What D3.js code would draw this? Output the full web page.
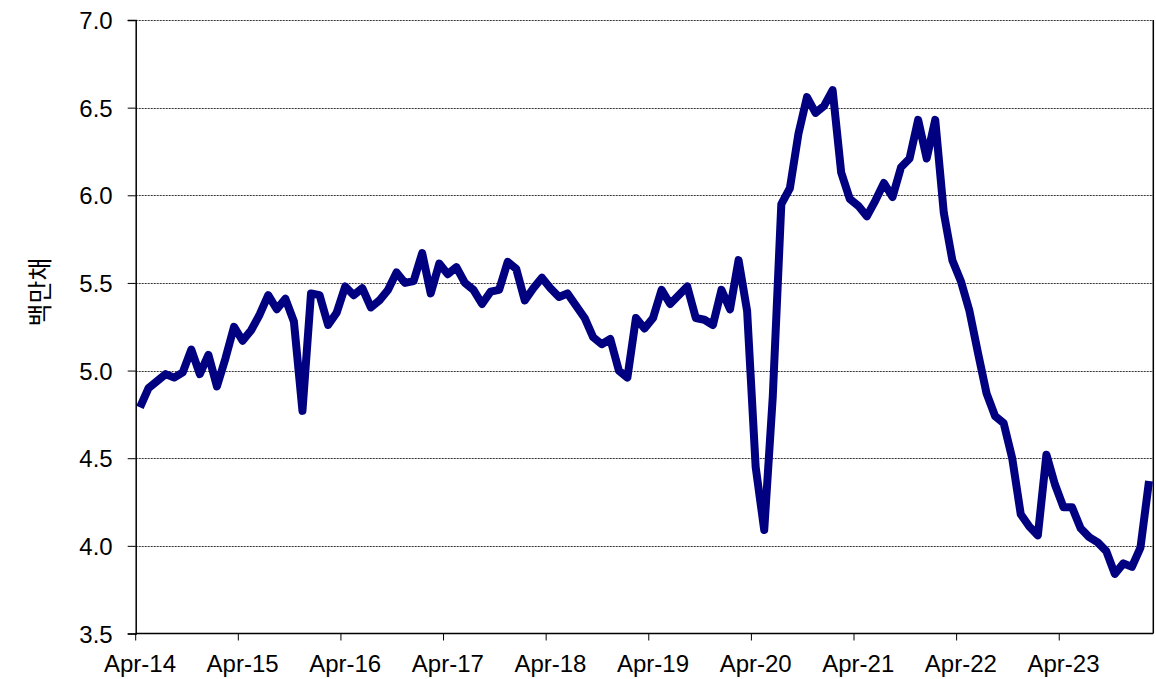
<!DOCTYPE html>
<html>
<head>
<meta charset="utf-8">
<script src="https://cdn.jsdelivr.net/npm/d3@7"></script>
<style>
  html, body { margin: 0; padding: 0; background: #fff; }
  svg { display: block; }
  text { font-family: "Liberation Sans", Arial, sans-serif; fill: #000; }
</style>
</head>
<body>
<svg id="chart" width="1156" height="679"></svg>
<script>
// Monthly categories: Apr-14 .. Feb-24
const startMonth = new Date(2014, 3, 1);
const endMonthExclusive = new Date(2024, 2, 1);
const months = d3.timeMonth.range(startMonth, endMonthExclusive);

// Series values (millions of units)
const values = [
  4.79, 4.90, 4.94, 4.98, 4.96, 4.99, 5.12, 4.98, 5.09, 4.91, 5.07, 5.25,
  5.17, 5.23, 5.32, 5.43, 5.35, 5.41, 5.28, 4.77, 5.44, 5.43, 5.26, 5.33,
  5.48, 5.43, 5.47, 5.36, 5.40, 5.46, 5.56, 5.50, 5.51, 5.67, 5.44, 5.61,
  5.55, 5.59, 5.50, 5.46, 5.38, 5.45, 5.46, 5.62, 5.58, 5.40, 5.47, 5.53,
  5.47, 5.42, 5.44, 5.37, 5.30, 5.19, 5.15, 5.18, 5.00, 4.96, 5.30, 5.24,
  5.30, 5.46, 5.38, 5.43, 5.48, 5.30, 5.29, 5.26, 5.46, 5.35, 5.63, 5.34,
  4.45, 4.09, 4.85, 5.95, 6.04, 6.35, 6.56, 6.47, 6.51, 6.60, 6.13, 5.98,
  5.94, 5.88, 5.97, 6.07, 5.99, 6.16, 6.21, 6.43, 6.21, 6.43, 5.90, 5.63,
  5.51, 5.34, 5.10, 4.87, 4.74, 4.70, 4.50, 4.18, 4.11, 4.06, 4.52, 4.35,
  4.22, 4.22, 4.10, 4.05, 4.02, 3.97, 3.84, 3.90, 3.88, 3.99, 4.37
];

// Tick labels
const xTickLabels = ["Apr-14","Apr-15","Apr-16","Apr-17","Apr-18","Apr-19","Apr-20","Apr-21","Apr-22","Apr-23"];
const yTicks = [3.5, 4.0, 4.5, 5.0, 5.5, 6.0, 6.5, 7.0];
const yTitle = "백만채";

const fmt = d3.timeFormat("%b-%y");
const data = months.map((m, i) => ({ label: fmt(m), v: values[i] }));

const svg = d3.select("#chart");
const plotLeft = 135.7, plotRight = 1153.3, plotTop = 20, plotBottom = 633.5;

const x = d3.scaleBand().domain(data.map(d => d.label)).range([plotLeft, plotRight]).padding(0);
const y = d3.scaleLinear().domain([3.5, 7.0]).range([plotBottom, plotTop]);
const cx = d => x(d.label) + x.bandwidth() / 2;

// Gridlines (dotted)
svg.append("g").selectAll("line").data(yTicks.filter(t => t > 3.5)).join("line")
  .attr("x1", plotLeft).attr("x2", plotRight)
  .attr("y1", d => Math.round(y(d)) + 0.5).attr("y2", d => Math.round(y(d)) + 0.5)
  .attr("stroke", "#333").attr("stroke-width", 1)
  .attr("stroke-dasharray", "2,1");

// Right border
svg.append("line")
  .attr("x1", plotRight).attr("x2", plotRight).attr("y1", plotTop).attr("y2", plotBottom)
  .attr("stroke", "#000").attr("stroke-width", 1.5);

// Y axis
const yAxis = d3.axisLeft(y).tickValues(yTicks).tickFormat(d3.format(".1f")).tickSize(8).tickPadding(15);
const gy = svg.append("g").attr("transform", `translate(${plotLeft},0)`).call(yAxis);
gy.select(".domain").attr("stroke", "#000").attr("stroke-width", 1.5);
gy.selectAll(".tick line").attr("stroke", "#000");
gy.selectAll(".tick text").style("font-size", "24px").attr("font-family", "Liberation Sans, Arial, sans-serif").attr("dy", "0.36em");

// X axis: ticks at April band starts, labels centered on April categories
const aprilLabels = data.map(d => d.label).filter(l => xTickLabels.includes(l));
const gx = svg.append("g").attr("transform", `translate(0,${plotBottom})`);
gx.append("line").attr("x1", plotLeft).attr("x2", plotRight).attr("y1", 0).attr("y2", 0)
  .attr("stroke", "#000").attr("stroke-width", 1.5);
gx.selectAll("line.tick").data(aprilLabels).join("line").attr("class", "tick")
  .attr("x1", d => x(d)).attr("x2", d => x(d))
  .attr("y1", 0).attr("y2", 7).attr("stroke", "#000");
gx.selectAll("text").data(aprilLabels).join("text")
  .attr("x", d => x(d) + x.bandwidth() / 2)
  .attr("y", 38.5)
  .attr("text-anchor", "middle")
  .style("font-size", "24px")
  .text(d => d);

// Y title
svg.append("text")
  .attr("transform", `translate(49,292) rotate(-90)`)
  .attr("text-anchor", "middle")
  .style("font-family", "'Noto Sans CJK KR', sans-serif")
  .style("font-size", "25px")
  .text(yTitle);

// Line
const line = d3.line().x(cx).y(d => y(d.v));
svg.append("path").datum(data)
  .attr("d", line)
  .attr("fill", "none")
  .attr("stroke", "#000080")
  .attr("stroke-width", 8)
  .attr("stroke-linejoin", "round")
  .attr("stroke-linecap", "butt");
</script>
</body>
</html>
